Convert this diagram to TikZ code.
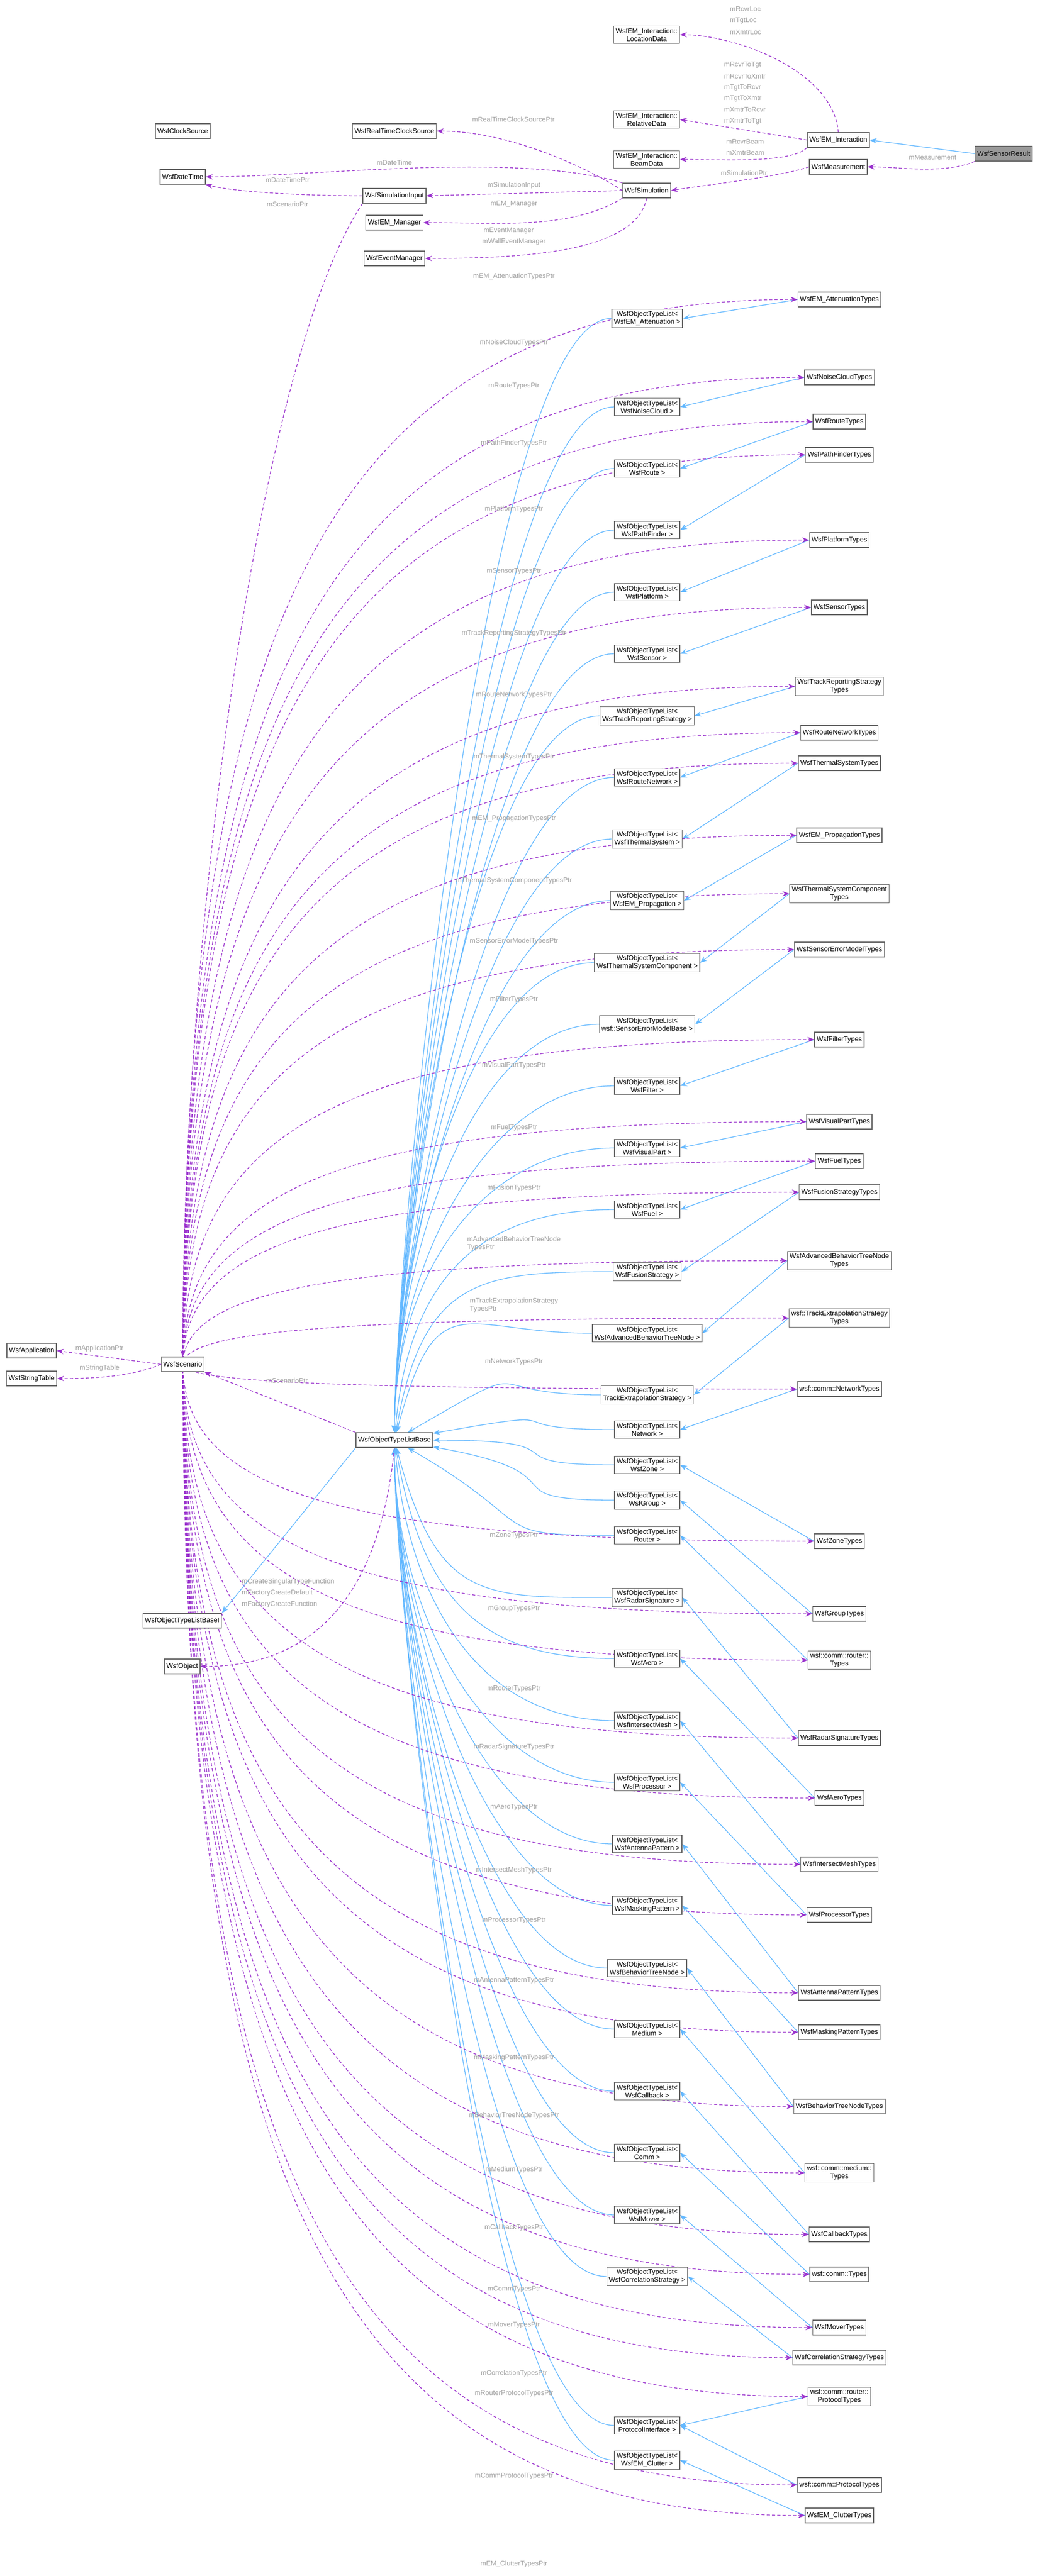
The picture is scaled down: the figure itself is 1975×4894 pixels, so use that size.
\documentclass[tikz,border=0pt]{standalone}
\usepackage{fontspec}
\setmainfont{Liberation Sans}
\usetikzlibrary{arrows.meta}
\pgfdeclarelayer{bg}
\pgfsetlayers{bg,main}
\definecolor{boxline}{HTML}{666666}
\definecolor{inh}{HTML}{63B8FF}
\definecolor{usage}{HTML}{9A32CD}
\definecolor{lblgray}{HTML}{A0A0A0}
\tikzset{
  cls/.style={draw=boxline, line width=1.3pt, fill=white, align=center,
    font=\fontsize{13}{15}\selectfont, inner sep=4pt, minimum height=28pt},
  inherit/.style={inh, line width=1.3pt, -{Stealth[length=13pt,width=10pt]}},
  uses/.style={usage, line width=1.3pt, dash pattern=on 6pt off 4pt,
    -{Stealth[length=13pt,width=10pt]}},
  lbl/.style={lblgray, font=\fontsize{13}{15}\selectfont, inner sep=1pt, align=left},
}
\begin{document}
\begin{tikzpicture}[x=1pt,y=-1pt]
  \useasboundingbox (0,0) rectangle (1975,4894);

  % top part
  \node[cls, fill=black!40] (res) at (1906,292) {WsfSensorResult};
  \node[cls] (emi) at (1592,266) {WsfEM\_Interaction};
  \node[cls] (meas) at (1592,317) {WsfMeasurement};
  \node[cls] (loc) at (1228,66) {WsfEM\_Interaction::\\LocationData};
  \node[cls] (rel) at (1228,227) {WsfEM\_Interaction::\\RelativeData};
  \node[cls] (beam) at (1228,303) {WsfEM\_Interaction::\\BeamData};
  \node[cls] (sim) at (1228,362) {WsfSimulation};
  \node[cls] (rtcs) at (749,249) {WsfRealTimeClockSource};
  \node[cls] (clk) at (347,249) {WsfClockSource};
  \node[cls] (dt) at (347,336) {WsfDateTime};
  \node[cls] (simin) at (749,372) {WsfSimulationInput};
  \node[cls] (emm) at (749,423) {WsfEM\_Manager};
  \node[cls] (evm) at (749,491) {WsfEventManager};

  % left part
  \node[cls] (app) at (60,2566) {WsfApplication};
  \node[cls] (stab) at (60,2619) {WsfStringTable};
  \node[cls] (scen) at (347,2592) {WsfScenario};
  \node[cls] (base) at (749,2736) {WsfObjectTypeListBase};
  \node[cls] (basei) at (346,3079) {WsfObjectTypeListBaseI};
  \node[cls] (obj) at (346,3166) {WsfObject};

  % object type lists
  \foreach \id/\y/\txt/\ang in {
    L1/605/WsfEM\_Attenuation >/90, L2/773/WsfNoiseCloud >/90,
    L3/890/WsfRoute >/90, L4/1007/WsfPathFinder >/90,
    L5/1125/WsfPlatform >/90, L6/1242/WsfSensor >/90,
    L7/1360/WsfTrackReportingStrategy >/90, L8/1477/WsfRouteNetwork >/90,
    L9/1594/WsfThermalSystem >/90, L10/1711/WsfEM\_Propagation >/90,
    L11/1829/WsfThermalSystemComponent >/90, L12/1946/wsf::SensorErrorModelBase >/90,
    L13/2063/WsfFilter >/90, L14/2181/WsfVisualPart >/90,
    L15/2298/WsfFuel >/85, L16/2416/WsfFusionStrategy >/80,
    L17/2533/WsfAdvancedBehaviorTreeNode >/75, L18/2650/TrackExtrapolationStrategy >/30,
    L19/2716/Network >/10, L20/2783/WsfZone >/0,
    L21/2850/WsfGroup >/-10, L22/2917/Router >/-30,
    L23/3035/WsfRadarSignature >/-75, L24/3151/WsfAero >/-80,
    L25/3269/WsfIntersectMesh >/-85, L26/3386/WsfProcessor >/-90,
    L27/3503/WsfAntennaPattern >/-90, L28/3620/WsfMaskingPattern >/-90,
    L29/3739/WsfBehaviorTreeNode >/-90, L30/3855/Medium >/-90,
    L31/3973/WsfCallback >/-90, L32/4090/Comm >/-90,
    L33/4208/WsfMover >/-90, L34/4325/WsfCorrelationStrategy >/-90,
    L35/4608/ProtocolInterface >/-90, L36/4674/WsfEM\_Clutter >/-90}
  {
    \node[cls] (\id) at (1229,\y) {WsfObjectTypeList<\\\txt};
    \begin{pgfonlayer}{bg}
      \draw[inherit] (\id.west) .. controls +(-250,0)
        and ([shift={(\ang:300pt)}]base.\ang) .. (base.\ang);
    \end{pgfonlayer}
  }

  % type collections
  \foreach \id/\y/\txt/\lst/\lab/\ly in {
    T1/569/WsfEM\_AttenuationTypes/L1/mEM\_AttenuationTypesPtr/525,
    T2/717/WsfNoiseCloudTypes/L2/mNoiseCloudTypesPtr/651,
    T3/801/WsfRouteTypes/L3/mRouteTypesPtr/733,
    T4/864/WsfPathFinderTypes/L4/mPathFinderTypesPtr/842,
    T5/1026/WsfPlatformTypes/L5/mPlatformTypesPtr/967,
    T6/1154/WsfSensorTypes/L6/mSensorTypesPtr/1085,
    T7/1304/{WsfTrackReportingStrategy\\Types}/L7/mTrackReportingStrategyTypesPtr/1203,
    T8/1392/WsfRouteNetworkTypes/L8/mRouteNetworkTypesPtr/1320,
    T9/1450/WsfThermalSystemTypes/L9/mThermalSystemTypesPtr/1438,
    T10/1587/WsfEM\_PropagationTypes/L10/mEM\_PropagationTypesPtr/1555,
    T11/1698/{WsfThermalSystemComponent\\Types}/L11/mThermalSystemComponentTypesPtr/1673,
    T12/1804/WsfSensorErrorModelTypes/L12/mSensorErrorModelTypesPtr/1788,
    T13/1975/WsfFilterTypes/L13/mFilterTypesPtr/1899,
    T14/2131/WsfVisualPartTypes/L14/mVisualPartTypesPtr/2024,
    T15/2206/WsfFuelTypes/L15/mFuelTypesPtr/2142,
    T16/2265/WsfFusionStrategyTypes/L16/mFusionTypesPtr/2257,
    T17/2395/{WsfAdvancedBehaviorTreeNode\\Types}/L17/{mAdvancedBehaviorTreeNode\\TypesPtr}/2363,
    T18/2504/{wsf::TrackExtrapolationStrategy\\Types}/L18/{mTrackExtrapolationStrategy\\TypesPtr}/2480,
    T19/2639/wsf::comm::NetworkTypes/L19/mNetworkTypesPtr/2587,
    T20/2928/WsfZoneTypes/L20/mZoneTypesPtr/2917,
    T21/3066/WsfGroupTypes/L21/mGroupTypesPtr/3056,
    T22/3154/{wsf::comm::router::\\Types}/L22/mRouterTypesPtr/3208,
    T23/3302/WsfRadarSignatureTypes/L23/mRadarSignatureTypesPtr/3319,
    T24/3416/WsfAeroTypes/L24/mAeroTypesPtr/3433,
    T25/3542/WsfIntersectMeshTypes/L25/mIntersectMeshTypesPtr/3553,
    T26/3638/WsfProcessorTypes/L26/mProcessorTypesPtr/3648,
    T27/3786/WsfAntennaPatternTypes/L27/mAntennaPatternTypesPtr/3762,
    T28/3861/WsfMaskingPatternTypes/L28/mMaskingPatternTypesPtr/3909,
    T29/4002/WsfBehaviorTreeNodeTypes/L29/mBehaviorTreeNodeTypesPtr/4019,
    T30/4128/{wsf::comm::medium::\\Types}/L30/mMediumTypesPtr/4122,
    T31/4245/WsfCallbackTypes/L31/mCallbackTypesPtr/4232,
    T32/4321/wsf::comm::Types/L32/mCommTypesPtr/4349,
    T33/4422/WsfMoverTypes/L33/mMoverTypesPtr/4417,
    T34/4479/WsfCorrelationStrategyTypes/L34/mCorrelationTypesPtr/4509,
    T35/4553/{wsf::comm::router::\\ProtocolTypes}/L35/mRouterProtocolTypesPtr/4547,
    T36/4721/wsf::comm::ProtocolTypes/L35/mCommProtocolTypesPtr/4704,
    T37/4779/WsfEM\_ClutterTypes/L36/mEM\_ClutterTypesPtr/4871}
  {
    \node[cls] (\id) at (1594,\y) {\txt};
    \node[lbl] at (976,\ly) {\lab};
    \begin{pgfonlayer}{bg}
      \draw[inherit] (\id.west) -- (\lst.east);
      \draw[uses] (scen.center) .. controls (350,{\y+0.3*(2592-\y)}) and (620,\y) .. (\id.west);
    \end{pgfonlayer}
  }

  \begin{pgfonlayer}{bg}
    \draw[inherit] (res.west) -- (emi.east);
    \draw[uses] (res.south west) .. controls +(-60,25) and +(60,0) .. (meas.east);
    \draw[uses] (emi.north) .. controls +(-10,-120) and +(100,0) .. (loc.east);
    \draw[uses] (emi.west) -- (rel.east);
    \draw[uses] (emi.south west) .. controls +(-30,30) and +(80,0) .. (beam.east);
    \draw[uses] (meas.west) .. controls +(-60,20) and +(60,-10) .. (sim.east);
    \draw[uses] (sim.west) .. controls +(-60,-40) and +(140,0) .. (rtcs.east);
    \draw[uses] (sim.north west) .. controls +(-200,-60) and +(200,0) .. (dt.east);
    \draw[uses] (simin.west) .. controls +(-100,0) and +(60,15) .. (dt.south east);
    \draw[uses] (sim.west) -- (simin.east);
    \draw[uses] (sim.south west) .. controls +(-100,60) and +(150,0) .. (emm.east);
    \draw[uses] (sim.south) .. controls +(-20,100) and +(200,0) .. (evm.east);
    \draw[uses] (simin.south west) .. controls +(-200,300) and +(0,-800) .. (scen.north);
    \draw[uses] (scen.west) -- (app.east);
    \draw[uses] (scen.west) .. controls +(-60,25) and +(60,0) .. (stab.east);
    \draw[uses] (base.north west) -- (scen.south east);
    \draw[inherit] (base.south west) -- (basei.north east);
    \draw[uses] (base.south) .. controls +(-30,300) and +(200,0) .. (obj.east);
  \end{pgfonlayer}

  % member labels
  \node[lbl, anchor=west] at (1385,17) {mRcvrLoc};
  \node[lbl, anchor=west] at (1385,39) {mTgtLoc};
  \node[lbl, anchor=west] at (1385,61) {mXmtrLoc};
  \node[lbl, anchor=west] at (1374,123) {mRcvrToTgt};
  \node[lbl, anchor=west] at (1374,145) {mRcvrToXmtr};
  \node[lbl, anchor=west] at (1374,166) {mTgtToRcvr};
  \node[lbl, anchor=west] at (1374,187) {mTgtToXmtr};
  \node[lbl, anchor=west] at (1374,208) {mXmtrToRcvr};
  \node[lbl, anchor=west] at (1374,230) {mXmtrToTgt};
  \node[lbl, anchor=west] at (1378,269) {mRcvrBeam};
  \node[lbl, anchor=west] at (1378,290) {mXmtrBeam};
  \node[lbl] at (1771,299) {mMeasurement};
  \node[lbl] at (1413,329) {mSimulationPtr};
  \node[lbl] at (975,227) {mRealTimeClockSourcePtr};
  \node[lbl] at (749,309) {mDateTime};
  \node[lbl] at (546,342) {mDateTimePtr};
  \node[lbl] at (976,352) {mSimulationInput};
  \node[lbl] at (546,388) {mScenarioPtr};
  \node[lbl] at (976,387) {mEM\_Manager};
  \node[lbl] at (966,438) {mEventManager};
  \node[lbl] at (976,459) {mWallEventManager};
  \node[lbl] at (189,2562) {mApplicationPtr};
  \node[lbl] at (189,2599) {mStringTable};
  \node[lbl] at (545,2623) {mScenarioPtr};
  \node[lbl, anchor=west] at (458,3005) {mCreateSingularTypeFunction};
  \node[lbl, anchor=west] at (458,3026) {mFactoryCreateDefault};
  \node[lbl, anchor=west] at (458,3048) {mFactoryCreateFunction};
\end{tikzpicture}
\end{document}
